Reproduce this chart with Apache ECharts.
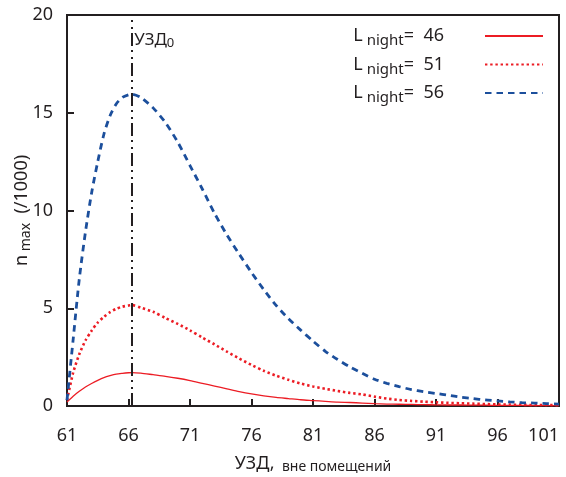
<!DOCTYPE html>
<html>
<head>
<meta charset="utf-8">
<script src="https://cdn.jsdelivr.net/npm/echarts@6/dist/echarts.min.js"></script>
<style>
  html, body { margin: 0; padding: 0; background: #fff; }
  #chart { width: 566px; height: 477px; }
</style>
</head>
<body>
<div id="chart"></div>
<script>
// Night-level scenarios (L_night, dB)
const levels = ['46', '51', '56'];

// УЗД values (dB) at which the curves are sampled
const xValues = [61, 61.5, 62, 62.5, 63, 63.5, 64, 64.5, 65, 65.5, 66, 66.3, 67, 68, 69, 70,
  71, 72, 73, 74, 75, 76, 77, 78, 79, 80, 81, 82, 83, 84, 85, 86, 87, 88, 89, 90,
  91, 92, 93, 94, 95, 96, 97, 98, 99, 100, 101];

// n_max (/1000) for each scenario
const nmax46 = [0.2, 0.5, 0.75, 0.97, 1.15, 1.31, 1.45, 1.55, 1.63, 1.67, 1.7, 1.71, 1.68, 1.6, 1.52, 1.42,
  1.3, 1.16, 1.02, 0.88, 0.74, 0.62, 0.52, 0.44, 0.38, 0.32, 0.28, 0.24, 0.2, 0.18, 0.15, 0.12, 0.1, 0.09, 0.08, 0.07,
  0.06, 0.05, 0.05, 0.04, 0.04, 0.03, 0.03, 0.03, 0.02, 0.02, 0.02];
const nmax51 = [0.3, 1.7, 2.65, 3.35, 3.85, 4.27, 4.56, 4.8, 4.97, 5.08, 5.14, 5.16, 5.03, 4.82, 4.5, 4.2,
  3.87, 3.5, 3.15, 2.78, 2.43, 2.1, 1.8, 1.55, 1.34, 1.15, 1.0, 0.88, 0.77, 0.67, 0.59, 0.48, 0.38, 0.31, 0.26, 0.22,
  0.19, 0.16, 0.14, 0.12, 0.1, 0.08, 0.07, 0.06, 0.05, 0.05, 0.04];
const nmax56 = [0.3, 3.4, 6.5, 8.9, 10.9, 12.5, 13.9, 14.85, 15.45, 15.78, 15.92, 15.95, 15.78, 15.25, 14.5, 13.5,
  12.3, 11.1, 9.85, 8.75, 7.77, 6.83, 5.95, 5.15, 4.47, 3.88, 3.32, 2.8, 2.38, 2.0, 1.68, 1.37, 1.16, 0.99, 0.84, 0.73,
  0.64, 0.55, 0.45, 0.38, 0.31, 0.26, 0.21, 0.17, 0.15, 0.12, 0.1];

// Reference level УЗД0 (dB)
const refLevel = 66.3;

// Axis ranges and tick steps
const xMin = 61, xMax = 101, xStep = 5;
const yMin = 0, yMax = 20, yStep = 5;

const FONT = 'Noto Sans';
const INK = '#231f20';
const pairs = ys => xValues.map((x, i) => [x, ys[i]]);

const chart = echarts.init(document.getElementById('chart'), null, { renderer: 'canvas' });

chart.setOption({
  animation: false,
  backgroundColor: '#ffffff',
  grid: {
    left: 67, right: 7, top: 15, bottom: 71,
    outerBoundsMode: 'none',
    containLabel: false,
    show: true, borderColor: INK, borderWidth: 2, backgroundColor: 'transparent'
  },
  legend: {
    show: true,
    orient: 'vertical',
    right: 17, top: 22,
    align: 'right',
    itemWidth: 58, itemHeight: 20, itemGap: 7,
    itemStyle: { opacity: 0 },
    formatter: name => '{l|L}{sub| night}{l|=  ' + name + '}',
    textStyle: {
      padding: [0, 36, 0, 0],
      rich: {
        l: { fontFamily: FONT, fontSize: 18, color: INK },
        sub: { fontFamily: FONT, fontSize: 15, color: INK, padding: [10, 0, 0, 0] }
      }
    },
    data: levels
  },
  xAxis: {
    type: 'value',
    min: xMin, max: xMax, interval: xStep,
    name: '{a|УЗД,}{b|  вне помещений}',
    nameLocation: 'middle',
    nameGap: 48,
    nameMoveOverlap: false,
    nameTextStyle: {
      rich: {
        a: { fontFamily: FONT, fontSize: 18, color: INK },
        b: { fontFamily: FONT, fontSize: 14, color: INK, padding: [6, 0, 0, 0] }
      }
    },
    axisLine: { show: true, lineStyle: { color: INK, width: 2 } },
    axisTick: { show: true, inside: true, length: 7, lineStyle: { color: INK, width: 2 } },
    axisLabel: { fontFamily: FONT, fontSize: 18, color: INK, margin: 21, alignMaxLabel: 'right' },
    splitLine: { show: false }
  },
  yAxis: {
    type: 'value',
    min: yMin, max: yMax, interval: yStep,
    name: '{a|n}{b| max}{a|  (/1000)}',
    nameLocation: 'middle',
    nameGap: 34,
    nameMoveOverlap: false,
    nameTextStyle: {
      rich: {
        a: { fontFamily: FONT, fontSize: 18, color: INK },
        b: { fontFamily: FONT, fontSize: 14, color: INK, padding: [8, 0, 0, 0] }
      }
    },
    axisLine: { show: true, lineStyle: { color: INK, width: 2 } },
    axisTick: { show: true, inside: true, length: 7, lineStyle: { color: INK, width: 2 } },
    axisLabel: { fontFamily: FONT, fontSize: 18, color: INK, margin: 14 },
    splitLine: { show: false }
  },
  series: [
    {
      name: levels[0],
      type: 'line',
      data: pairs(nmax46),
      smooth: 0.25,
      symbol: 'none',
      lineStyle: { color: '#ec1c24', width: 1.3, type: 'solid' },
      itemStyle: { color: '#ec1c24' },
      z: 3,
      markLine: {
        silent: true,
        symbol: ['none', 'none'],
        label: { show: false },
        lineStyle: { color: INK, width: 2, type: [13, 4, 2, 5, 2, 4] },
        data: [{ xAxis: refLevel }]
      },
      markPoint: {
        silent: true,
        symbolSize: 0,
        data: [{ coord: [refLevel, 18.7] }],
        label: {
          show: true,
          position: 'right',
          distance: 2,
          formatter: 'УЗД{s|0}',
          fontFamily: FONT, fontSize: 17, color: INK,
          rich: { s: { fontFamily: FONT, fontSize: 13, color: INK, padding: [6, 0, 0, 0] } }
        }
      }
    },
    {
      name: levels[1],
      type: 'line',
      data: pairs(nmax51),
      smooth: 0.25,
      symbol: 'none',
      lineStyle: { color: '#ec1c24', width: 2.6, type: [2.4, 2.8] },
      itemStyle: { color: '#ec1c24' },
      z: 4
    },
    {
      name: levels[2],
      type: 'line',
      data: pairs(nmax56),
      smooth: 0.25,
      symbol: 'none',
      lineStyle: { color: '#1c4f9c', width: 2.8, type: [6.5, 5] },
      itemStyle: { color: '#1c4f9c' },
      z: 5
    }
  ]
});
</script>
</body>
</html>
